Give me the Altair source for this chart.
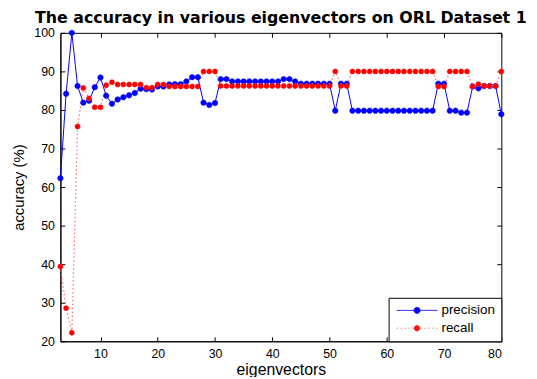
import altair as alt
import pandas as pd

# ---- data ----
eigenvectors = list(range(3, 81))

precision = [
    62.3, 84.2, 100.0, 86.2, 81.9, 82.4, 85.9, 88.4, 83.7, 81.6,
    82.7, 83.3, 83.8, 84.4, 85.5, 85.4, 85.3, 86.1, 86.1, 86.6,
    86.7, 86.7, 87.4, 88.5, 88.5, 81.9, 81.3, 81.8, 88.0, 88.0,
    87.4, 87.4, 87.4, 87.4, 87.4, 87.4, 87.4, 87.4, 87.4,
    88.0, 88.0, 87.4,
    86.8, 86.8, 86.8, 86.8, 86.8, 86.8,
    79.8, 86.8, 86.8,
    79.8, 79.8, 79.8, 79.8, 79.8, 79.8, 79.8, 79.8, 79.8, 79.8,
    79.8, 79.8, 79.8, 79.8, 79.8,
    86.8, 86.8, 79.8, 79.8, 79.3, 79.3, 86.1, 85.6, 86.2, 86.2,
    86.2, 78.9,
]

recall = [
    39.4, 28.6, 22.2, 75.7, 85.7, 83.0, 80.7, 80.7, 86.4, 87.2,
    86.6, 86.6, 86.6, 86.6, 86.6, 85.8, 85.8, 86.6, 86.6, 86.1,
    86.1, 86.1, 86.1, 86.1, 86.1, 90.0, 90.0, 90.0,
    86.2, 86.2, 86.2, 86.2, 86.2, 86.2, 86.2, 86.2, 86.2, 86.2,
    86.2, 86.2, 86.2, 86.2, 86.2, 86.2, 86.2, 86.2, 86.2, 86.2,
    90.0, 86.2, 86.2,
    90.0, 90.0, 90.0, 90.0, 90.0, 90.0, 90.0, 90.0, 90.0, 90.0,
    90.0, 90.0, 90.0, 90.0, 90.0,
    86.1, 86.1, 90.0, 90.0, 90.0, 90.0,
    86.1, 86.7, 86.2, 86.2, 86.2, 90.0,
]

series_names = ["precision", "recall"]
series_colors = ["#0000ff", "#ff0000"]
line_colors = ["#0000ff", "#ff7070"]
x_ticks = [10, 20, 30, 40, 50, 60, 70, 80]
y_ticks = [20, 30, 40, 50, 60, 70, 80, 90, 100]

rows = []
for name, vals in zip(series_names, [precision, recall]):
    for xv, yv in zip(eigenvectors, vals):
        rows.append({"x": xv, "value": yv, "series": name})
df = pd.DataFrame(rows)

FONT = "Liberation Sans"
TITLE_FONT = "DejaVu Sans"
TICK = 4.5
W, H = 446, 312

x_scale = alt.Scale(domain=[3, 80], nice=False, zero=False)
y_scale = alt.Scale(domain=[20, 100], nice=False, zero=False)

# legend glyph: a short line with a dot in the middle (symbol size 144 -> scale 6 px/unit)
legend_path = ("M-3.42,0H3.42M-0.5,0A0.5,0.5,0,1,1,0.5,0"
               "A0.5,0.5,0,1,1,-0.5,0Z")

legend = alt.Legend(
    title=None,
    orient="none",
    legendX=332,
    legendY=268,
    symbolType=legend_path,
    symbolSize=144,
    symbolStrokeWidth=1,
    symbolOffset=16,
    labelFont=FONT,
    labelFontSize=13.5,
    labelColor="black",
    labelOffset=18,
    rowPadding=3,
    padding=6,
    fillColor="white",
    strokeColor="black",
    cornerRadius=0,
)

base = alt.Chart(df)

# labelled axes (no ticks)
x_bottom = alt.Axis(
    values=x_ticks, orient="bottom", title="eigenvectors", grid=False,
    ticks=False, labelPadding=6, titlePadding=2,
    labelFontSize=12.5, titleFontSize=16,
)
y_left = alt.Axis(
    values=y_ticks, orient="left", title="accuracy (%)", grid=False,
    ticks=False, labelPadding=6, titlePadding=7,
    labelFontSize=12.5, titleFontSize=15,
)
# inward ticks on bottom & left edges
x_in_bottom = alt.Axis(
    values=x_ticks, orient="top", offset=-H, title=None, labels=False,
    grid=False, domain=False, tickSize=TICK,
)
y_in_left = alt.Axis(
    values=y_ticks, orient="right", offset=-W, title=None, labels=False,
    grid=False, domain=False, tickSize=TICK,
)
# inward ticks on top & right edges
x_in_top = alt.Axis(
    values=x_ticks, orient="bottom", offset=-H, title=None, labels=False,
    grid=False, domain=False, tickSize=TICK,
)
y_in_right = alt.Axis(
    values=y_ticks, orient="left", offset=-W, title=None, labels=False,
    grid=False, domain=False, tickSize=TICK,
)

line_p = base.transform_filter(alt.datum.series == "precision").mark_line(
    strokeWidth=1, color=line_colors[0]
).encode(
    x=alt.X("x:Q", scale=x_scale, axis=x_bottom),
    y=alt.Y("value:Q", scale=y_scale, axis=y_left),
)

line_r = base.transform_filter(alt.datum.series == "recall").mark_line(
    strokeWidth=1.2, strokeDash=[1.5, 2.5], color=line_colors[1]
).encode(
    x=alt.X("x:Q", scale=x_scale, axis=x_in_bottom),
    y=alt.Y("value:Q", scale=y_scale, axis=y_in_left),
)

pts = base.mark_point(filled=True, size=30, opacity=1, strokeWidth=0.6).encode(
    x=alt.X("x:Q", scale=x_scale, axis=x_in_top),
    y=alt.Y("value:Q", scale=y_scale, axis=y_in_right),
    color=alt.Color("series:N",
                    scale=alt.Scale(domain=series_names, range=series_colors),
                    legend=legend),
    stroke=alt.Stroke("series:N",
                      scale=alt.Scale(domain=series_names, range=line_colors),
                      legend=legend),
    strokeDash=alt.StrokeDash("series:N",
                              scale=alt.Scale(domain=series_names,
                                              range=[[1, 0], [1.5, 2.5]]),
                              legend=legend),
)

chart = alt.layer(line_p, line_r, pts).resolve_axis(
    x="independent", y="independent"
).properties(
    width=W,
    height=H,
    autosize=alt.AutoSizeParams(type="none"),
    padding={"left": 53, "top": 23, "right": 28, "bottom": 34},
    title=alt.Title(
        "The accuracy in various eigenvectors on ORL Dataset 1",
        font=TITLE_FONT, fontSize=16, fontWeight="bold", color="black",
        anchor="middle", baseline="alphabetic", offset=3, dy=15,
        frame="group",
    ),
).configure_view(
    stroke="black", strokeWidth=1
).configure_axis(
    labelFont=FONT, titleFont=FONT, labelColor="black", titleColor="black",
    titleFontWeight="normal", domainColor="black", tickColor="black",
    domainWidth=1, tickWidth=1,
)

chart.save("out.html", embed_options={"renderer": "svg", "actions": False})
